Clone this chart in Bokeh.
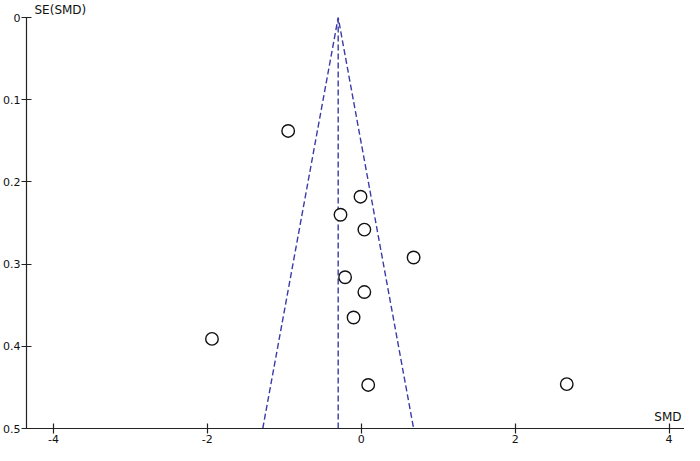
from bokeh.plotting import figure
from bokeh.models import Range1d, FixedTicker, CustomJSTickFormatter, Label
from bokeh.embed import file_html
from bokeh.resources import INLINE

# Study effects (standardised mean difference) and their standard errors
smd = [-0.95, -0.01, -0.27, 0.04, 0.68, -0.21, 0.04, -0.10, -1.94, 0.09, 2.67]
se = [0.138, 0.218, 0.240, 0.258, 0.292, 0.316, 0.334, 0.365, 0.391, 0.447, 0.446]

# Pooled estimate and funnel depth
pooled_smd = -0.30
se_max = 0.5
z = 1.96

x_ticks = [-4, -2, 0, 2, 4]
y_ticks = [0, 0.1, 0.2, 0.3, 0.4, 0.5]
x_title = "SMD"
y_title = "SE(SMD)"

FONT = "DejaVu Sans"

x_start, x_end = -4.35, 4.2

p = figure(width=684, height=445, output_backend="svg", toolbar_location=None,
           x_range=Range1d(x_start, x_end), y_range=Range1d(se_max, 0),
           min_border_left=19, min_border_right=0, min_border_top=0,
           min_border_bottom=0, title=y_title)
p.outline_line_color = None
p.grid.visible = False
p.background_fill_color = "white"
p.border_fill_color = "white"

p.title.align = "left"
p.title.offset = 8
p.title.standoff = 1
p.title.text_font = FONT
p.title.text_font_size = "12px"
p.title.text_font_style = "normal"
p.title.text_color = "#111111"

fmt = "return String(Math.round(tick*10)/10);"
for ax, ticks in ((p.xaxis[0], x_ticks), (p.yaxis[0], y_ticks)):
    ax.ticker = FixedTicker(ticks=ticks)
    ax.formatter = CustomJSTickFormatter(code=fmt)
    ax.axis_line_color = "#222222"
    ax.axis_line_width = 1.2
    ax.major_tick_line_color = "#222222"
    ax.major_tick_line_width = 1.2
    ax.major_tick_in = 5
    ax.major_tick_out = 5
    ax.minor_tick_line_color = None
    ax.major_label_text_font = FONT
    ax.major_label_text_font_size = "11px"
    ax.major_label_text_color = "#111111"
    ax.major_label_standoff = 1

# Funnel (pseudo 95% CI limits) and pooled-estimate line
funnel_x = [pooled_smd - z * se_max, pooled_smd, pooled_smd + z * se_max]
funnel_y = [se_max, 0, se_max]
p.line(funnel_x, funnel_y, line_color="#3a3aa8", line_width=1.4, line_dash="6 3")
p.line([pooled_smd, pooled_smd], [0, se_max], line_color="#3a3aa8",
       line_width=1.4, line_dash="6 3")

p.scatter(smd, se, marker="circle", size=12.5, fill_color="white",
          line_color="#111111", line_width=1.4)

p.add_layout(Label(x=x_end, y=se_max, text=x_title, x_offset=-3, y_offset=5,
                   text_align="right", text_baseline="bottom", text_font=FONT,
                   text_font_size="12px", text_color="#111111"))

open("out.html", "w").write(file_html(p, INLINE))
